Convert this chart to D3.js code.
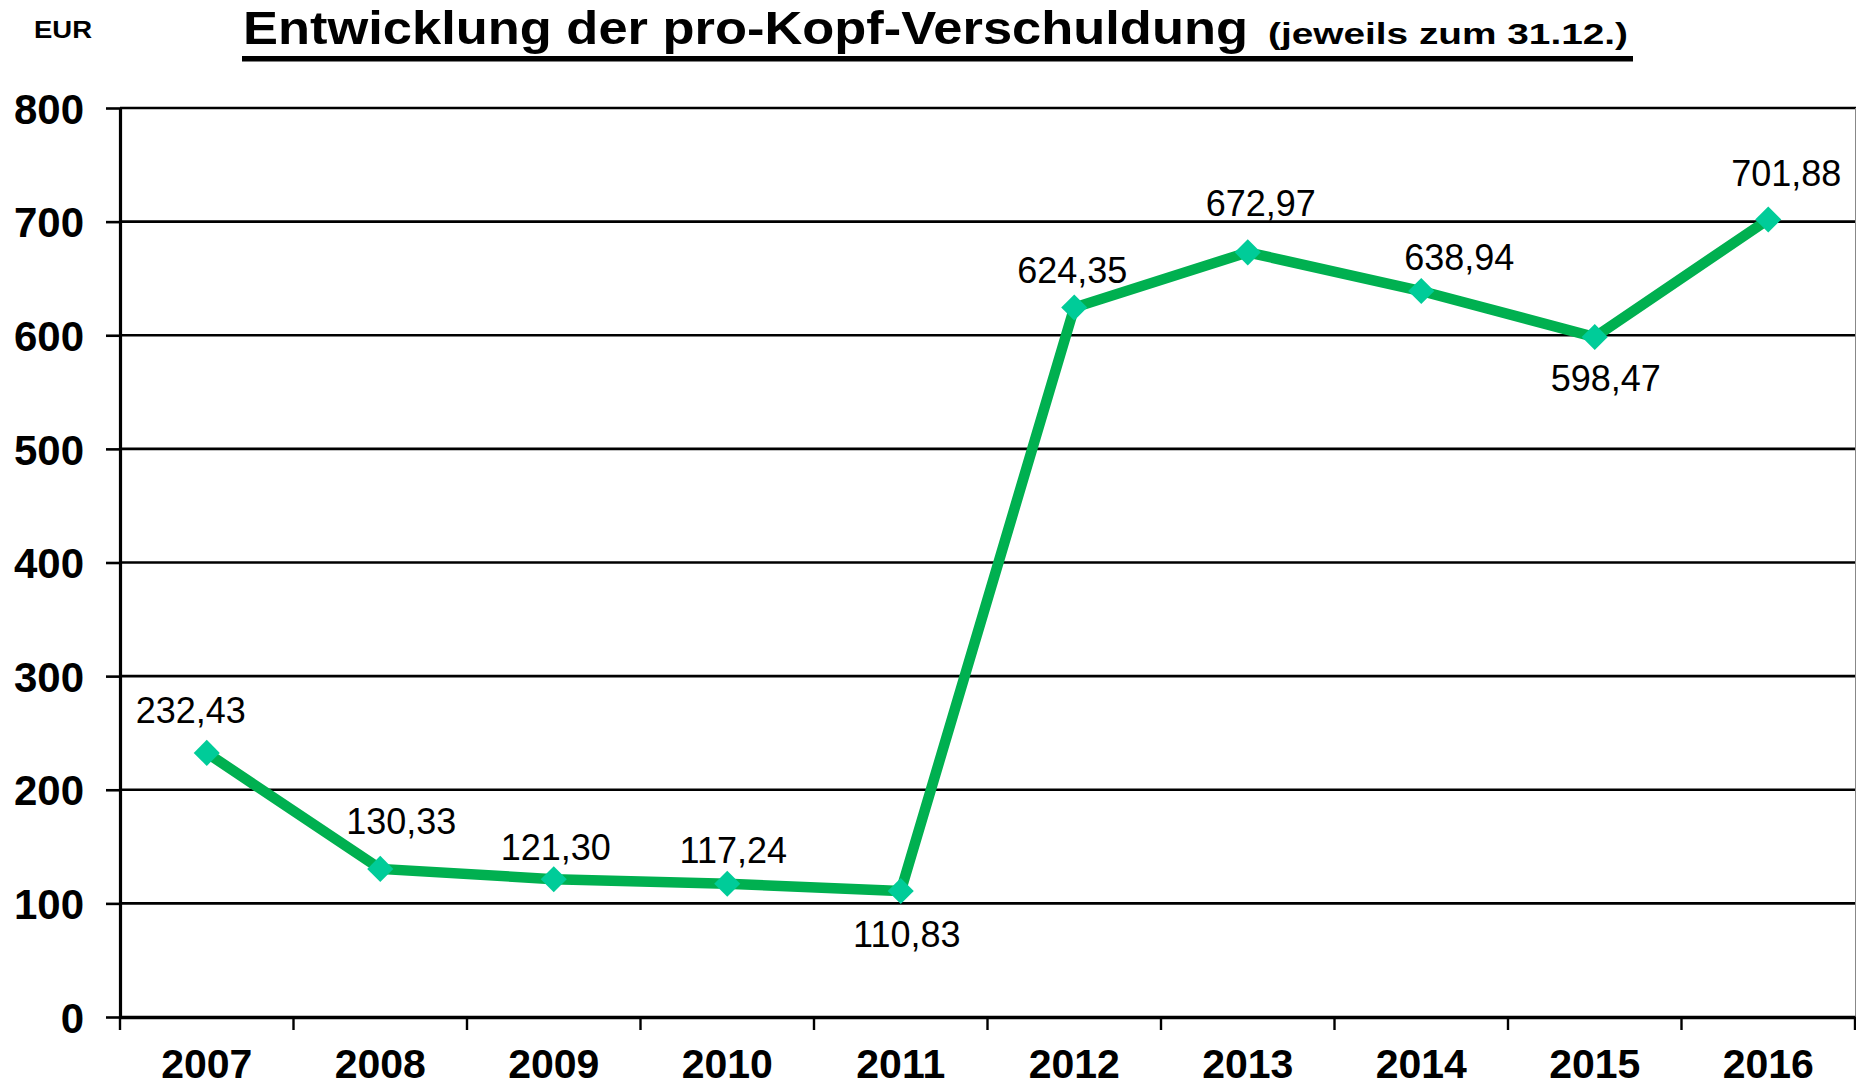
<!DOCTYPE html>
<html>
<head>
<meta charset="utf-8">
<script src="https://cdn.jsdelivr.net/npm/d3@7"></script>
<style>
  body { margin: 0; background: #fff; }
  text { font-family: "Liberation Sans", Arial, Helvetica, sans-serif; }
</style>
</head>
<body>
<div id="chart"></div>
<script>
// data
var years = ["2007", "2008", "2009", "2010", "2011", "2012", "2013", "2014", "2015", "2016"];
var debtPerHead = [232.43, 130.33, 121.30, 117.24, 110.83, 624.35, 672.97, 638.94, 598.47, 701.88];
var yTicks = [0, 100, 200, 300, 400, 500, 600, 700, 800];
var labelSide = ["above", "above", "above", "above", "below", "above", "above", "above", "below", "above"];

// hand placement of the value labels (pixels from the point), like in the original
var labelNudge = [[-16, -30], [21, -35], [2, -19], [6, -21], [6, 56], [-2, -25], [13, -36], [38, -21], [11, 54], [18, -33]];

var width = 1856,
    height = 1086,
    plotLeft = 120,
    plotRight = 1855,
    plotTop = 108,
    plotBottom = 1017,
    lineColor = "#00B050",
    markerColor = "#00CC99";

var de = d3.formatLocale({decimal: ",", thousands: ".", grouping: [3], currency: ["", " €"]});
var fmt = de.format(".2f");

var svg = d3.select("#chart")
            .append("svg")
            .attr("width", width)
            .attr("height", height);

var x = d3.scaleBand()
          .domain(years)
          .range([plotLeft, plotRight]);

var y = d3.scaleLinear()
          .domain([0, 800])
          .range([plotBottom, plotTop]);

// title
svg.append("text")
   .attr("x", 34)
   .attr("y", 38)
   .attr("textLength", 58)
   .attr("lengthAdjust", "spacingAndGlyphs")
   .style("font-size", "24px")
   .style("font-weight", "bold")
   .text("EUR");

svg.append("text")
   .attr("x", 243)
   .attr("y", 44)
   .attr("textLength", 1005)
   .attr("lengthAdjust", "spacingAndGlyphs")
   .style("font-size", "47px")
   .style("font-weight", "bold")
   .text("Entwicklung der pro-Kopf-Verschuldung");

svg.append("text")
   .attr("x", 1268)
   .attr("y", 44)
   .attr("textLength", 360)
   .attr("lengthAdjust", "spacingAndGlyphs")
   .style("font-size", "29px")
   .style("font-weight", "bold")
   .text("(jeweils zum 31.12.)");

svg.append("rect")
   .attr("x", 242)
   .attr("y", 56)
   .attr("width", 1391)
   .attr("height", 5.5)
   .attr("fill", "#000");

// gridlines
svg.append("g")
   .selectAll("line")
   .data(yTicks.filter((d) => d > 0))
   .enter()
   .append("line")
   .attr("x1", plotLeft)
   .attr("x2", width)
   .attr("y1", (d) => y(d))
   .attr("y2", (d) => y(d))
   .attr("stroke", "#000")
   .attr("stroke-width", 2.6);

// right border of the plot area
svg.append("line")
   .attr("x1", plotRight + 0.5)
   .attr("x2", plotRight + 0.5)
   .attr("y1", plotTop)
   .attr("y2", plotBottom + 13)
   .attr("stroke", "#888")
   .attr("stroke-width", 1);

// y axis
var yAxis = svg.append("g")
               .attr("transform", `translate(${plotLeft},0)`)
               .call(d3.axisLeft(y).tickValues(yTicks).tickSize(14).tickPadding(22).tickSizeOuter(0));

yAxis.select(".domain")
     .attr("stroke-width", 3.2);
yAxis.selectAll(".tick line")
     .attr("stroke-width", 2.6);
yAxis.selectAll(".tick text")
     .attr("dy", "0.36em")
     .style("font-size", "42px")
     .style("font-weight", "bold")
     .style("font-family", "'Liberation Sans', Arial, sans-serif")
     .attr("fill", "#000");

// x axis: labels in the middle of each band, ticks on band edges
var xAxis = svg.append("g")
               .attr("transform", `translate(0,${plotBottom})`)
               .call(d3.axisBottom(x).tickSize(0).tickPadding(32).tickSizeOuter(0));

xAxis.select(".domain")
     .attr("stroke-width", 3.4);
xAxis.selectAll(".tick text")
     .attr("dy", "0.71em")
     .style("font-size", "41px")
     .style("font-weight", "bold")
     .style("font-family", "'Liberation Sans', Arial, sans-serif")
     .attr("fill", "#000");

var edges = years.map((d) => x(d)).concat([plotRight]);
xAxis.selectAll(".edge")
     .data(edges)
     .enter()
     .append("line")
     .attr("class", "edge")
     .attr("x1", (d) => d)
     .attr("x2", (d) => d)
     .attr("y1", 0)
     .attr("y2", 13)
     .attr("stroke", "#000")
     .attr("stroke-width", 2.4);

// the series
var points = years.map((d, i) => ({year: d, value: debtPerHead[i], side: labelSide[i], nudge: labelNudge[i]}));
var cx = (d) => x(d.year) + x.bandwidth() / 2;

var line = d3.line()
             .x(cx)
             .y((d) => y(d.value));

svg.append("path")
   .datum(points)
   .attr("d", line)
   .attr("fill", "none")
   .attr("stroke", lineColor)
   .attr("stroke-width", 10.5)
   .attr("stroke-linejoin", "miter");

svg.append("g")
   .selectAll("path")
   .data(points)
   .enter()
   .append("path")
   .attr("d", d3.symbol().type(d3.symbolSquare).size(340))
   .attr("transform", (d) => `translate(${cx(d)},${y(d.value)}) rotate(45)`)
   .attr("fill", markerColor);

svg.append("g")
   .selectAll("text")
   .data(points)
   .enter()
   .append("text")
   .attr("x", (d) => cx(d) + d.nudge[0])
   .attr("y", (d) => y(d.value) + d.nudge[1])
   .attr("text-anchor", "middle")
   .style("font-size", "36px")
   .attr("fill", "#000")
   .text((d) => fmt(d.value));
</script>
</body>
</html>
